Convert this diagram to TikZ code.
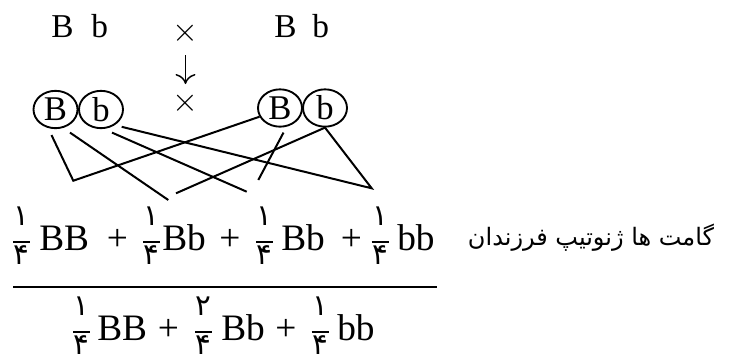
\documentclass[tikz,border=0pt]{standalone}
\usepackage{fontspec}
\setmainfont{Liberation Serif}
\newfontfamily\farsi[Script=Arabic]{DejaVu Sans}
\TeXXeTstate=1
\usepackage{tikz}
\usetikzlibrary{arrows.meta, calc, shapes.geometric}
\tikzset{
    x=0.75pt, y=-0.75pt,
    harf/.style={font=\fontsize{25}{30}\selectfont, inner sep=0pt},
    kalame/.style={font=\fontsize{28}{32}\selectfont, inner sep=0pt,
                   anchor=base west},
    jam/.style={font=\fontsize{28}{32}\selectfont, inner sep=0pt, anchor=base},
    gamet/.style={draw, ellipse, line width=1.4pt, minimum width=33pt,
                  minimum height=28pt, inner sep=0pt,
                  font=\fontsize{26}{30}\selectfont},
    raqam/.style={font=\farsi\fontsize{22}{24}\selectfont, inner sep=0pt},
    khat/.style={line width=1.5pt},
    kasrkhat/.style={line width=1.2pt},
    peykan/.style={-{To[length=7.5pt, width=15pt]}, line width=1.1pt},
    matn/.style={font=\farsi\fontsize{18}{22}\selectfont, inner sep=0pt},
}
% kasr: name, x, y (of the bar), numerator, denominator
\newcommand{\kasr}[5]{%
    \coordinate (#1) at (#2,#3);
    \draw[kasrkhat] ($(#1)+(-8.5,0)$) -- ($(#1)+(8.5,0)$);
    \node[raqam, anchor=south] (#1n) at ($(#1)+(0,-16)$) {#4};
    \node[raqam, anchor=north] (#1d) at ($(#1)+(0,3)$) {#5};
}
\begin{document}
\begin{tikzpicture}
    \useasboundingbox (0,0) rectangle (729,362);

    % parents
    \node[harf, anchor=base west] (p1B) at (51,37) {B};
    \node[harf, anchor=base west] (p1b) at (91,37) {b};
    \node[harf] (z1) at (185.5,33) {$\times$};
    \node[harf, anchor=base west] (p2B) at (274,37) {B};
    \node[harf, anchor=base west] (p2b) at (312,37) {b};

    \node[harf] (z2) at (185.5,103) {$\times$};
    \coordinate (f1) at (185.5,55);
    \coordinate (f2) at (185.5,84);
    \draw[peykan] (f1) -- (f2);

    % gametes
    \node[gamet] (g1B) at (55.5,109.5) {B};
    \node[gamet] (g1b) at (101,109.5) {b};
    \node[gamet] (g2B) at (280,108) {B};
    \node[gamet] (g2b) at (325,108) {b};

    \coordinate (v1) at (73.3,180.7);
    \coordinate (v2) at (371.7,188.3);
    \coordinate (e1) at (168.3,200);
    \coordinate (s1) at (176,193.3);
    \coordinate (e2) at (246.7,191.7);
    \coordinate (e3) at (258.3,180);

    \draw[khat] ($(g1B.south)+(-4,6)$) -- (v1) -- (g2B.203);
    \draw[khat] ($(g1B.south)+(14.5,3.5)$) -- (e1);
    \draw[khat] (s1) -- (g2b.south);
    \draw[khat] ($(g1b.south)+(11,3.5)$) -- (e2);
    \draw[khat] ($(g2B.south)+(3.5,5)$) -- (e3);
    \draw[khat] ($(g1b.south)+(20.7,-2.3)$) -- (v2) -- (g2b.south);

    % offspring
    \kasr{k1}{21.5}{242}{۱}{۴}
    \node[kalame] (t1) at (39,250) {BB};
    \node[jam] (j1) at (117.5,250) {+};
    \kasr{k2}{151.5}{242}{۱}{۴}
    \node[kalame] (t2) at (162,250) {Bb};
    \node[jam] (j2) at (230,250) {+};
    \kasr{k3}{264.5}{242}{۱}{۴}
    \node[kalame] (t3) at (281,250) {Bb};
    \node[jam] (j3) at (351.5,250) {+};
    \kasr{k4}{380}{242}{۱}{۴}
    \node[kalame] (t4) at (397,250) {bb};

    \node[matn, anchor=base] (onvan) at (591,245)
        {\beginR گامت ها ژنوتیپ فرزندان\endR};

    \coordinate (chap) at (13,287);
    \coordinate (rast) at (437,287);
    \draw[line width=2pt] (chap) -- (rast);

    \kasr{m1}{81.5}{332}{۱}{۴}
    \node[kalame] (n1) at (97,340) {BB};
    \node[jam] (h1) at (168.5,340) {+};
    \kasr{m2}{203.5}{332}{۲}{۴}
    \node[kalame] (n2) at (221,340) {Bb};
    \node[jam] (h2) at (286,340) {+};
    \kasr{m3}{320}{332}{۱}{۴}
    \node[kalame] (n3) at (337,340) {bb};
\end{tikzpicture}
\end{document}
